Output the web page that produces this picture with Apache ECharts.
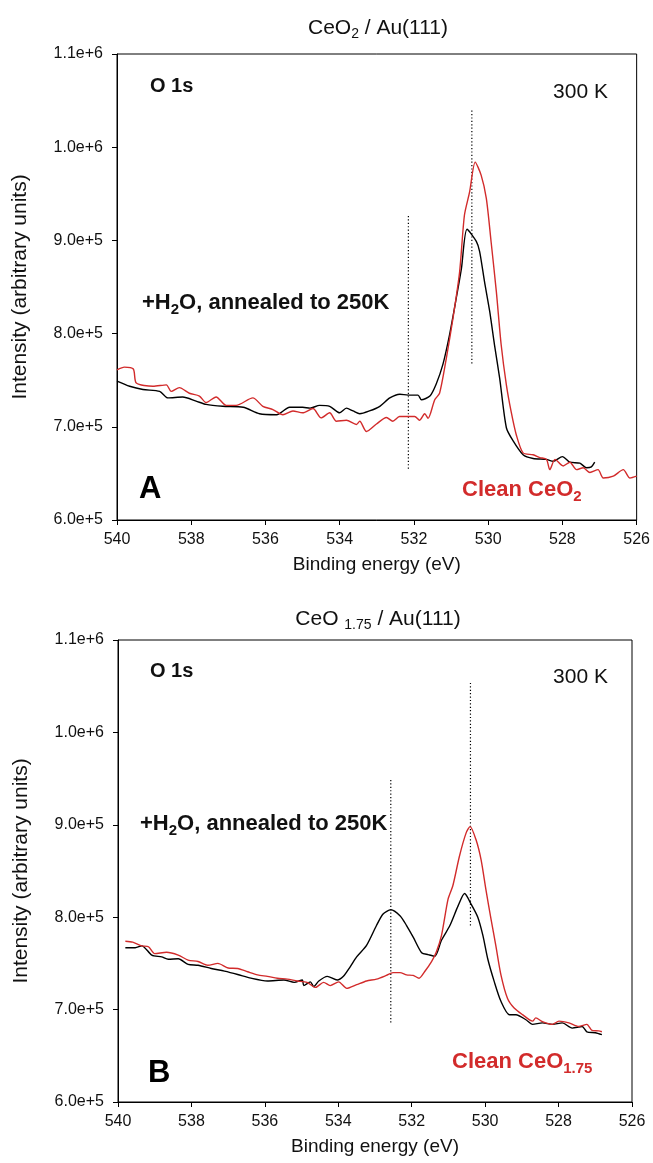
<!DOCTYPE html>
<html><head><meta charset="utf-8">
<script src="https://cdn.jsdelivr.net/npm/echarts@6/dist/echarts.min.js"></script>
<style>html,body{margin:0;padding:0;background:#fff}#c{width:653px;height:1163px}</style>
</head><body><div id="c"></div>
<script>
// ---------- data ----------
const xTickMin = 526, xTickMax = 540, xTickStep = 2;
const yTickMin = 600000, yTickMax = 1100000, yTickStep = 100000;

// Panel A : CeO2 / Au(111)
const aWaterX = [540.0,539.66,539.3,538.85,538.63,538.23,537.87,537.6,537.15,536.6,536.16,535.7,535.35,535.0,534.8,534.54,534.27,534.0,533.82,533.64,533.46,533.2,532.92,532.65,532.38,532.16,532.02,531.89,531.8,531.57,531.4,531.22,531.04,530.86,530.72,530.57,530.32,530.23,530.1,529.96,529.83,529.69,529.51,529.33,529.06,528.79,528.43,528.25,528.0,527.8,527.53,527.35,527.22,527.13];
const aWaterY = [749000,743500,740000,738000,731000,732000,727600,724000,722000,721000,714000,713000,721000,721000,720000,723000,722000,715000,720000,717000,714000,717000,722000,731000,735000,734000,734000,734000,729000,733000,746000,767000,799000,838000,870000,912000,899000,888000,856000,824000,788000,752000,699000,685000,670000,666000,665000,663000,668000,662000,661000,656000,657000,662000];
const aCleanX = [540.0,539.8,539.56,539.48,539.03,538.67,538.54,538.32,538.05,537.78,537.6,537.33,537.06,536.79,536.34,536.07,535.8,535.53,535.26,535.0,534.72,534.5,534.27,534.09,533.82,533.55,533.46,533.28,533.01,532.74,532.57,532.39,532.25,531.98,531.85,531.71,531.62,531.44,531.31,531.13,530.95,530.77,530.64,530.5,530.35,530.19,530.05,529.92,529.78,529.65,529.51,529.38,529.24,529.06,528.79,528.61,528.43,528.34,528.2,527.98,527.8,527.62,527.44,527.26,527.04,526.9,526.63,526.36,526.18,526.0];
const aCleanY = [761000,764000,762000,747000,743500,745000,738000,742000,736000,733000,726000,732000,723000,723000,731000,722000,718500,713000,717000,715000,719600,709600,715000,706000,707000,702500,706000,695000,703000,710000,706000,711000,711000,711000,707000,714000,709000,729000,736000,773000,816000,866000,927000,952000,984000,970000,945000,898000,845000,788000,745000,716000,691000,672000,670000,667000,665000,654000,665000,658000,662000,654000,656000,651000,654000,645000,647000,654000,645000,647000];
// dotted markers: [energy, yFrom, yTo]
const aMarkers = [[532.15, 655000, 927000], [530.44, 768000, 1040000]];

// Panel B : CeO1.75 / Au(111)
const bWaterX = [539.8,539.53,539.35,539.08,538.81,538.63,538.36,538.09,537.82,537.46,537.1,536.74,536.38,535.93,535.48,535.2,534.98,534.94,534.76,534.67,534.53,534.3,534.03,533.86,533.68,533.5,533.23,532.96,532.78,532.57,532.32,532.14,531.96,531.73,531.55,531.37,531.19,530.96,530.74,530.56,530.38,530.2,530.06,529.93,529.75,529.57,529.34,529.16,528.89,528.71,528.44,528.17,527.9,527.63,527.36,527.23,527.0,526.82];
const bWaterY = [767000,767000,769000,759000,757000,754500,755000,749000,748000,744500,741600,738000,734000,731000,732000,729500,732000,726000,730000,725000,731000,736000,732000,736000,746000,757000,769500,791000,803500,808000,801600,791000,778500,761600,759500,757700,775000,791000,812000,825600,814000,800000,780000,755000,730000,709000,694500,694500,689000,684000,685600,684000,685600,680000,681700,676000,675000,673000];
const bCleanX = [539.8,539.6,539.35,539.17,539.0,538.68,538.36,538.09,537.82,537.55,537.28,537.0,536.74,536.47,536.2,535.93,535.66,535.39,535.12,534.85,534.62,534.4,534.22,533.99,533.77,533.5,533.23,532.96,532.69,532.51,532.32,532.14,531.96,531.8,531.65,531.46,531.33,531.19,531.01,530.88,530.7,530.52,530.41,530.25,530.11,529.98,529.84,529.71,529.57,529.39,529.21,528.98,528.71,528.62,528.44,528.17,527.99,527.72,527.45,527.23,527.09,526.91,526.82];
const bCleanY = [774000,773000,769000,768000,760600,762000,759000,753600,752000,748000,750000,745000,744500,741000,737600,736000,734000,733000,731000,729500,724000,729500,726000,730000,723000,727000,731000,733000,737000,740000,740000,737600,737000,734000,741000,752000,762400,780000,819500,834000,866000,891000,898000,884000,862000,830000,798000,769500,737600,712000,701700,694500,687500,691000,687000,684000,687500,685600,681700,684000,677500,677000,676000];
const bMarkers = [[532.57, 686000, 950000], [530.40, 791000, 1054000]];

// ---------- chart ----------
const FONT = '"Liberation Sans", Arial, sans-serif';
const RED = '#d22b2b';
const INK = '#111';
const zip = (xs, ys) => xs.map((x, i) => [x, ys[i]]);

function axesFor(idx) {
  const x = {
    gridIndex: idx, type: 'value', inverse: true,
    min: xTickMin, max: xTickMax, interval: xTickStep,
    axisLine: {show: true, onZero: false, lineStyle: {color: '#000', width: 1}},
    axisTick: {show: true, length: 5, lineStyle: {color: '#000'}},
    axisLabel: {color: INK, fontSize: 16, fontFamily: FONT, margin: 12},
    splitLine: {show: false},
    name: 'Binding energy (eV)', nameLocation: 'middle', nameGap: 35,
    nameTextStyle: {color: INK, fontSize: 19, fontFamily: FONT}
  };
  const y = {
    gridIndex: idx, type: 'value',
    min: yTickMin, max: yTickMax, interval: yTickStep,
    axisLine: {show: true, lineStyle: {color: '#000', width: 1}},
    axisTick: {show: true, length: 5, lineStyle: {color: '#000'}},
    axisLabel: {color: INK, fontSize: 16, fontFamily: FONT, margin: 14,
      formatter: v => Number(v).toExponential(1)},
    splitLine: {show: false},
    name: 'Intensity (arbitrary units)', nameLocation: 'middle', nameGap: 86, nameRotate: 90,
    nameTextStyle: {color: INK, fontSize: 21, fontFamily: FONT}
  };
  return {x, y};
}
const A = axesFor(0), B = axesFor(1);

function markerSeries(markers, idx) {
  return markers.map(m => ({
    type: 'line', xAxisIndex: idx, yAxisIndex: idx, showSymbol: false, silent: true,
    data: [[m[0], m[1]], [m[0], m[2]]],
    lineStyle: {color: '#000', width: 1.2, type: [1.2, 2.2]}, z: 1
  }));
}
function curve(xs, ys, idx, color) {
  return {type: 'line', xAxisIndex: idx, yAxisIndex: idx, showSymbol: false, silent: true,
    smooth: 0.25,
    data: zip(xs, ys), lineStyle: {color: color, width: 1.4}, z: 3};
}

const rich = (size, weight, color) => ({
  n: {fontSize: size, fontWeight: weight, fontFamily: FONT, fill: color, verticalAlign: 'middle', lineHeight: size + 6},
  s: {fontSize: Math.round(size * 0.66), fontWeight: weight, fontFamily: FONT, fill: color, verticalAlign: 'bottom', lineHeight: size + 6}
});
function txt(x, y, text, size, weight, color, align) {
  return {type: 'text', x: x, y: y, silent: true,
    style: {text: text, rich: rich(size, weight, color), textAlign: align || 'left', textVerticalAlign: 'middle'}};
}

const option = {
  animation: false,
  backgroundColor: '#fff',
  grid: [
    {left: 117, top: 54, width: 520, height: 466, show: true, borderColor: '#000', borderWidth: 1},
    {left: 118, top: 640, width: 514, height: 462, show: true, borderColor: '#000', borderWidth: 1}
  ],
  xAxis: [A.x, B.x],
  yAxis: [A.y, B.y],
  series: [
    ...markerSeries(aMarkers, 0),
    ...markerSeries(bMarkers, 1),
    curve(aWaterX, aWaterY, 0, '#000'),
    curve(aCleanX, aCleanY, 0, RED),
    curve(bWaterX, bWaterY, 1, '#000'),
    curve(bCleanX, bCleanY, 1, RED)
  ],
  graphic: [
    txt(378, 28, '{n|CeO}{s|2}{n| / Au(111)}', 21, 'normal', INK, 'center'),
    txt(150, 86, '{n|O 1s}', 20, 'bold', INK),
    txt(608, 92, '{n|300 K}', 21, 'normal', INK, 'right'),
    txt(142, 303, '{n|+H}{s|2}{n|O, annealed to 250K}', 22, 'bold', INK),
    txt(139, 489, '{n|A}', 31, 'bold', '#000'),
    txt(462, 490, '{n|Clean CeO}{s|2}', 22, 'bold', RED),

    txt(378, 619, '{n|CeO }{s|1.75}{n| / Au(111)}', 21, 'normal', INK, 'center'),
    txt(150, 671, '{n|O 1s}', 20, 'bold', INK),
    txt(608, 677, '{n|300 K}', 21, 'normal', INK, 'right'),
    txt(140, 824, '{n|+H}{s|2}{n|O, annealed to 250K}', 22, 'bold', INK),
    txt(148, 1073, '{n|B}', 31, 'bold', '#000'),
    txt(452, 1062, '{n|Clean CeO}{s|1.75}', 22, 'bold', RED)
  ]
};
const chart = echarts.init(document.getElementById('c'), null, {renderer: 'canvas'});
chart.setOption(option);
</script>
</body></html>
